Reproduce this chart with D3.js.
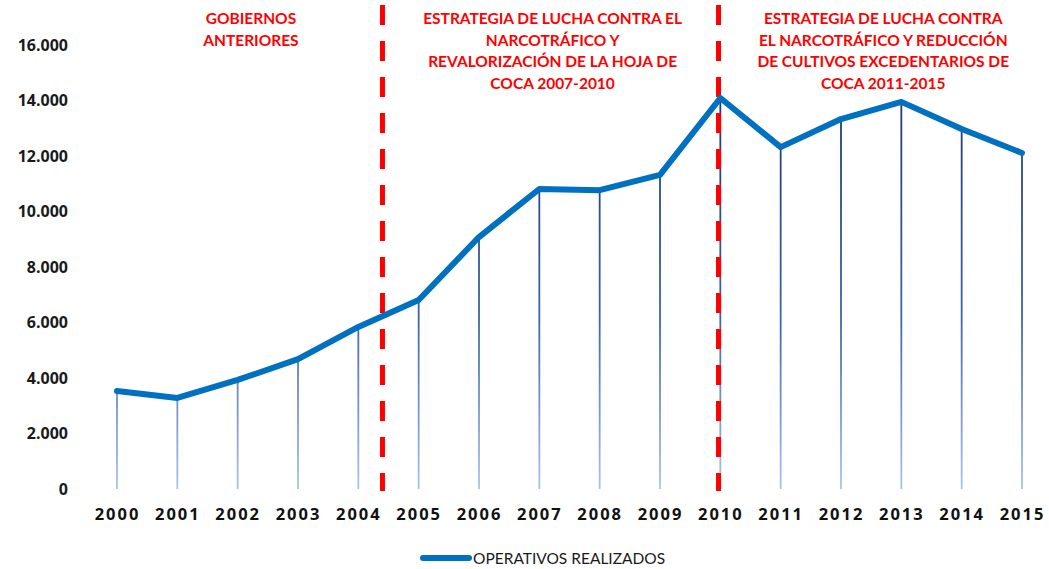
<!DOCTYPE html>
<html>
<head>
<meta charset="utf-8">
<script src="https://cdn.jsdelivr.net/npm/d3@7"></script>
<style>
  body { margin: 0; background: #fff; }
  svg { display: block; }
</style>
</head>
<body>
<svg id="chart" width="1049" height="569"></svg>
<script>
// chart data
var years = ["2000","2001","2002","2003","2004","2005","2006","2007","2008","2009","2010","2011","2012","2013","2014","2015"];
var operativos = [3530, 3280, 3930, 4680, 5840, 6810, 9080, 10810, 10770, 11320, 14090, 12320, 13330, 13950, 12970, 12110];
var yTicks = [0, 2000, 4000, 6000, 8000, 10000, 12000, 14000, 16000];
var periodBreaks = [4.4, 9.97]; // index positions of the red dashed lines
var periods = [
  { at: 2.22, lines: ["GOBIERNOS", "ANTERIORES"] },
  { at: 7.22, lines: ["ESTRATEGIA DE LUCHA CONTRA EL", "NARCOTRÁFICO Y", "REVALORIZACIÓN DE LA HOJA DE", "COCA 2007-2010"] },
  { at: 12.7, lines: ["ESTRATEGIA DE LUCHA CONTRA", "EL NARCOTRÁFICO Y REDUCCIÓN", "DE CULTIVOS EXCEDENTARIOS DE", "COCA 2011-2015"] }
];
var seriesName = "OPERATIVOS REALIZADOS";

var svg = d3.select('#chart');

var x = d3.scaleLinear().domain([0, years.length - 1]).range([117, 1022]);
var y = d3.scaleLinear().domain([0, 16000]).range([489, 45]);

var fmt = function (d) { return d === 0 ? "0" : d3.format(",")(d).replace(/,/g, "."); };

// gradient for drop lines
var defs = svg.append('defs');
var grad = defs.append('linearGradient')
  .attr('id', 'dropGrad')
  .attr('gradientUnits', 'userSpaceOnUse')
  .attr('x1', 0).attr('x2', 0)
  .attr('y1', y(14000)).attr('y2', y(0));
grad.append('stop').attr('offset', '0%').attr('stop-color', '#1f3a6e');
grad.append('stop').attr('offset', '55%').attr('stop-color', '#3d63a8');
grad.append('stop').attr('offset', '100%').attr('stop-color', '#a9c4ea');

// y axis labels
svg.append('g')
  .attr('transform', 'translate(68,0)')
  .call(d3.axisLeft(y).tickValues(yTicks).tickFormat(fmt).tickSize(0).tickPadding(0))
  .call(function (g) { g.select('.domain').remove(); })
  .selectAll('text')
  .attr('font-family', 'Open Sans, sans-serif')
  .attr('font-weight', 'bold')
  .attr('font-size', '16px')
  .attr('fill', '#1a1a1a');

// x axis labels
svg.append('g')
  .attr('transform', 'translate(0,508)')
  .call(d3.axisBottom(x).tickValues(d3.range(years.length)).tickFormat(function (i) { return years[i]; }).tickSize(0).tickPadding(0))
  .call(function (g) { g.select('.domain').remove(); })
  .selectAll('text')
  .attr('font-family', 'Open Sans, sans-serif')
  .attr('font-weight', 'bold')
  .attr('font-size', '16.5px')
  .attr('letter-spacing', '2px')
  .attr('fill', '#111');

// drop lines
svg.selectAll('.drop')
  .data(operativos)
  .enter()
  .append('line')
  .attr('class', 'drop')
  .attr('x1', function (d, i) { return x(i); })
  .attr('x2', function (d, i) { return x(i); })
  .attr('y1', function (d) { return y(d); })
  .attr('y2', y(0))
  .attr('stroke', 'url(#dropGrad)')
  .attr('stroke-width', 1.8);

// red dashed period separators
svg.selectAll('.sep')
  .data(periodBreaks)
  .enter()
  .append('line')
  .attr('class', 'sep')
  .attr('x1', function (d) { return x(d); })
  .attr('x2', function (d) { return x(d); })
  .attr('y1', 5)
  .attr('y2', y(0) + 2)
  .attr('stroke', '#ff0000')
  .attr('stroke-width', 5)
  .attr('stroke-dasharray', '20,16');

// main line
var line = d3.line()
  .x(function (d, i) { return x(i); })
  .y(function (d) { return y(d); });

svg.append('path')
  .datum(operativos)
  .attr('d', line)
  .attr('fill', 'none')
  .attr('stroke', '#0070c0')
  .attr('stroke-width', 6)
  .attr('stroke-linejoin', 'round')
  .attr('stroke-linecap', 'round');

// period titles
periods.forEach(function (p) {
  var t = svg.append('text')
    .attr('x', x(p.at))
    .attr('text-anchor', 'middle')
    .attr('font-family', 'Lato, sans-serif')
    .attr('font-weight', 'bold')
    .attr('font-size', '15.5px')
    .attr('fill', '#ff0000');
  p.lines.forEach(function (s, k) {
    t.append('tspan')
      .attr('x', x(p.at))
      .attr('y', 24 + k * 21.7)
      .text(s);
  });
});

// legend
svg.append('line')
  .attr('x1', 423).attr('x2', 469)
  .attr('y1', 558).attr('y2', 558)
  .attr('stroke', '#0070c0')
  .attr('stroke-width', 6)
  .attr('stroke-linecap', 'round');

svg.append('text')
  .attr('x', 473)
  .attr('y', 563.5)
  .attr('font-family', 'Lato, sans-serif')
  .attr('font-size', '15.5px')
  .attr('fill', '#1a1a1a')
  .text(seriesName);
</script>
</body>
</html>
